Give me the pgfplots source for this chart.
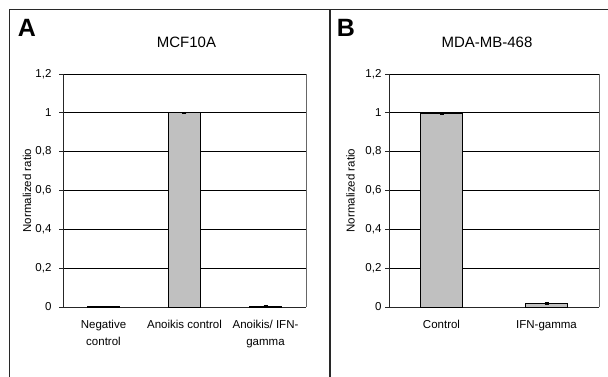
\documentclass[border=0pt]{standalone}
\usepackage{pgfplots}
\pgfplotsset{compat=1.18}
\usepackage{pgfplotstable}
\usepackage{fontspec}
\setmainfont{Liberation Sans}
\definecolor{barfill}{RGB}{192,192,192}
\definecolor{frame}{RGB}{40,40,40}

\pgfplotstableread{
x y err
1 0.001 0.001
2 1.000 0.003
3 0.005 0.002
}\tableA
\pgfplotstableread{
x y err
1 0.995 0.003
2 0.018 0.004
}\tableB

\pgfplotsset{
  panel/.style={
    scale only axis,
    anchor=south west,
    height=233pt,
    ymin=0, ymax=1.2,
    ytick={0,0.2,0.4,0.6,0.8,1,1.2},
    yticklabels={0,{0,2},{0,4},{0,6},{0,8},1,{1,2}},
    ymajorgrids,
    grid style={black, line width=0.7pt},
    axis x line*=bottom,
    axis y line*=left,
    axis line style={black!85, line width=0.9pt},
    tick align=outside,
    major tick length=4pt,
    tick style={black!85, line width=0.9pt},
    xtick style={draw=none},
    extra x tick style={tick style={draw=black!85, line width=0.9pt}, grid=none},
    extra x tick labels={},
    /pgf/number format/assume math mode=true,
    ticklabel style={font=\fontsize{11.5}{16.5}\selectfont},
    xticklabel style={align=center, yshift=-6pt},
    ylabel={Normalized ratio},
    ylabel style={font=\fontsize{11.5}{14}\selectfont, anchor=center, rotate=0},
    ybar, bar width=0.4,
    clip=false,
  }
}

\begin{document}
\begin{tikzpicture}[x=1pt,y=1pt]
\path[use as bounding box] (0,0) rectangle (608,377);
% frame
\draw[frame, line width=1.6pt] (9.5,0) -- (9.5,367.5) -- (608,367.5);
\draw[frame, line width=1.6pt] (330,0) -- (330,367.5);
% panel letters and titles
\node[font=\fontsize{25}{25}\selectfont\bfseries] at (27,349.5) {A};
\node[font=\fontsize{25}{25}\selectfont\bfseries] at (346,349.5) {B};
\node[font=\fontsize{15}{15}\selectfont] at (186.5,335) {MCF10A};
\node[font=\fontsize{15}{15}\selectfont] at (487,335) {MDA-MB-468};

\begin{axis}[panel,
  at={(63pt,70pt)}, width=243pt,
  xmin=0.5, xmax=3.5,
  xtick={1,2,3},
  xticklabels={Negative\\control, Anoikis control, Anoikis/ IFN-\\gamma},
  extra x ticks={0.5,1.5,2.5,3.5},
  yticklabel style={xshift=-4pt},
  ylabel style={at={(axis description cs:-0.148,0.5)}},
]
\addplot[fill=barfill, draw=black, line width=0.8pt,
  error bars/.cd, y dir=both, y explicit,
  error bar style={black, line width=1.2pt},
  error mark options={rotate=90, mark size=2pt, black, line width=1.2pt}]
  table[x=x, y=y, y error=err] {\tableA};
\draw[black!60, line width=0.7pt] (rel axis cs:1,0) -- (rel axis cs:1,1);
\end{axis}

\begin{axis}[panel,
  at={(389pt,70pt)}, width=210pt,
  xmin=0.5, xmax=2.5,
  xtick={1,2},
  xticklabels={Control, IFN-gamma},
  extra x ticks={0.5,1.5,2.5},
  ylabel style={at={(axis description cs:-0.183,0.5)}},
]
\addplot[fill=barfill, draw=black, line width=0.8pt,
  error bars/.cd, y dir=both, y explicit,
  error bar style={black, line width=1.2pt},
  error mark options={rotate=90, mark size=2pt, black, line width=1.2pt}]
  table[x=x, y=y, y error=err] {\tableB};
\draw[black!60, line width=0.7pt] (rel axis cs:1,0) -- (rel axis cs:1,1);
\end{axis}
\end{tikzpicture}
\end{document}
